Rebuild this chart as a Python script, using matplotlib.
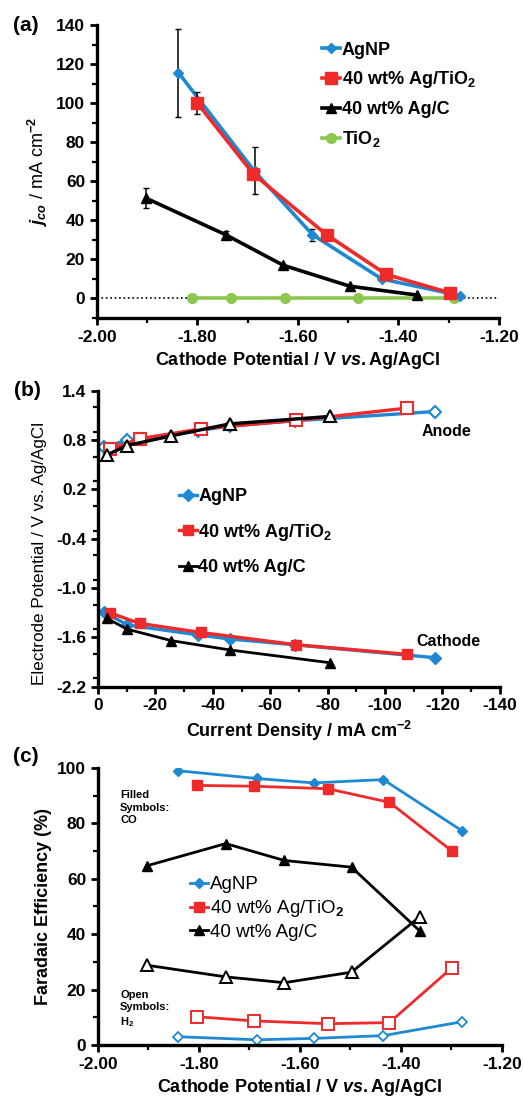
import matplotlib.pyplot as plt
from matplotlib.ticker import MultipleLocator, FormatStrFormatter
from matplotlib.lines import Line2D

plt.rcParams['font.family'] = 'Liberation Sans'
plt.rcParams['font.weight'] = 'bold'
plt.rcParams['axes.labelweight'] = 'bold'
plt.rcParams['axes.unicode_minus'] = False
plt.rcParams['mathtext.fontset'] = 'custom'
plt.rcParams['mathtext.rm'] = 'Liberation Sans:bold'
plt.rcParams['mathtext.it'] = 'Liberation Sans:italic:bold'
plt.rcParams['mathtext.bf'] = 'Liberation Sans:bold'

BLUE = '#1f88d2'
RED = '#ee2a2a'
BLACK = '#000000'
GREEN = '#8cc850'

# ---- panel (a): partial current density for CO
a_agnp_x = [-1.838, -1.686, -1.571, -1.433, -1.278]
a_agnp_y = [115.8, 65.1, 32.7, 10.0, 1.5]
a_agnp_err_lo = [22.9, 11.6, 3.4, 0, 0]
a_agnp_err_hi = [22.5, 12.3, 2.9, 0, 0]

a_tio2ag_x = [-1.800, -1.689, -1.543, -1.424, -1.298]
a_tio2ag_y = [100.1, 63.9, 32.7, 12.3, 2.9]
a_tio2ag_err = [5.5, 0, 0, 0, 0]

a_agc_x = [-1.903, -1.744, -1.629, -1.497, -1.362]
a_agc_y = [51.5, 32.7, 17.0, 6.3, 1.7]
a_agc_err = [5.2, 1.8, 0, 0, 0]

a_tio2_x = [-1.810, -1.734, -1.626, -1.480, -1.290]
a_tio2_y = [0, 0, 0, 0, 0]

# ---- panel (b): electrode potentials vs current density
b_agnp_x = [-2.0, -10.2, -35.0, -45.9, -68.5, -117.3]
b_agnp_anode = [0.714, 0.80, 0.913, 0.974, 1.035, 1.148]
b_agnp_cathode = [-1.287, -1.449, -1.57, -1.62, -1.69, -1.847]

b_tio2ag_x = [-4.1, -14.5, -35.8, -69.1, -107.7]
b_tio2ag_anode = [0.69, 0.816, 0.937, 1.04, 1.19]
b_tio2ag_cathode = [-1.30, -1.43, -1.54, -1.69, -1.806]

b_agc_x = [-3.1, -10.1, -25.6, -45.9, -80.7]
b_agc_anode = [0.62, 0.734, 0.852, 0.998, 1.088]
b_agc_cathode = [-1.368, -1.50, -1.64, -1.753, -1.908]

b_yticks = [1.4, 0.8, 0.2, -0.4, -1.0, -1.6, -2.2]

# ---- panel (c): faradaic efficiency
c_agnp_x = [-1.841, -1.686, -1.573, -1.435, -1.279]
c_agnp_co = [99.0, 96.2, 94.6, 95.8, 77.3]
c_agnp_h2 = [3.0, 1.9, 2.4, 3.4, 8.4]

c_tio2ag_x = [-1.803, -1.691, -1.545, -1.423, -1.299]
c_tio2ag_co = [93.7, 93.4, 92.5, 87.6, 70.0]
c_tio2ag_h2 = [10.2, 8.7, 7.7, 8.1, 27.9]

c_agc_x = [-1.903, -1.747, -1.631, -1.498, -1.363]
c_agc_co = [64.7, 72.7, 66.6, 64.2, 41.2]
c_agc_h2 = [28.8, 24.6, 22.5, 26.3, 46.3]

lab_agnp = 'AgNP'
lab_tio2ag = '40 wt% Ag/TiO$_2$'
lab_agc = '40 wt% Ag/C'
lab_tio2 = 'TiO$_2$'

TICK = 12.5
LABEL = 13


def style(ax):
    for s in ['top', 'right']:
        ax.spines[s].set_visible(False)
    for s in ['left', 'bottom']:
        ax.spines[s].set_linewidth(2.4)
    ax.tick_params(which='major', direction='out', length=5, width=2, labelsize=TICK)
    ax.tick_params(which='minor', direction='out', length=3.5, width=1.6)


fig = plt.figure(figsize=(5.24, 11.04), dpi=100)

# (a)
ax = fig.add_axes([0.185, 0.712, 0.767, 0.265])
ax.axhline(0, color='k', ls=':', lw=1.2, zorder=1)
ax.errorbar(a_agnp_x, a_agnp_y, yerr=[a_agnp_err_lo, a_agnp_err_hi], color=BLUE, lw=2.6,
            marker='D', ms=5.5, ecolor='k', elinewidth=1.1, capsize=2.5, zorder=3)
ax.errorbar(a_tio2ag_x, a_tio2ag_y, yerr=a_tio2ag_err, color=RED, lw=2.6,
            marker='s', ms=8, ecolor='k', elinewidth=1.1, capsize=2.5, zorder=4)
ax.errorbar(a_agc_x, a_agc_y, yerr=a_agc_err, color=BLACK, lw=2.6,
            marker='^', ms=7, ecolor='k', elinewidth=1.1, capsize=2.5, zorder=3)
ax.plot(a_tio2_x, a_tio2_y, color=GREEN, lw=2.6, marker='o', ms=7, zorder=2)
ax.set_xlim(-2.0, -1.2)
ax.set_ylim(-10, 140)
ax.xaxis.set_major_locator(MultipleLocator(0.2))
ax.xaxis.set_minor_locator(MultipleLocator(0.1))
ax.xaxis.set_major_formatter(FormatStrFormatter('%.2f'))
ax.yaxis.set_major_locator(MultipleLocator(20))
ax.yaxis.set_minor_locator(MultipleLocator(10))
style(ax)
ax.set_xlabel('Cathode Potential / V $\\mathit{vs.}$Ag/AgCl', fontsize=LABEL, labelpad=4)
ax.set_ylabel('$j_{co}$ / mA cm$^{-2}$', fontsize=LABEL, labelpad=4, fontweight='normal')
handles = [Line2D([], [], color=BLUE, lw=2.6, marker='D', ms=5.5),
           Line2D([], [], color=RED, lw=2.6, marker='s', ms=8),
           Line2D([], [], color=BLACK, lw=2.6, marker='^', ms=7),
           Line2D([], [], color=GREEN, lw=2.6, marker='o', ms=7)]
ax.legend(handles, [lab_agnp, lab_tio2ag, lab_agc, lab_tio2], loc='upper left',
          bbox_to_anchor=(0.52, 1.0), frameon=False, fontsize=13,
          handlelength=1.0, handletextpad=0.1, labelspacing=0.6)
ax.text(-0.21, 1.0, '(a)', transform=ax.transAxes, fontsize=15, ha='left', va='center')

# (b)
ax = fig.add_axes([0.187, 0.378, 0.767, 0.268])
ax.plot(b_agnp_x, b_agnp_anode, color=BLUE, lw=2.4, marker='D', ms=6, mfc='white', mec=BLUE, mew=1.5)
ax.plot(b_tio2ag_x, b_tio2ag_anode, color=RED, lw=2.4, marker='s', ms=8, mfc='white', mec=RED, mew=1.5)
ax.plot(b_agc_x, b_agc_anode, color=BLACK, lw=2.4, marker='^', ms=8, mfc='white', mec=BLACK, mew=1.5)
ax.plot(b_agnp_x, b_agnp_cathode, color=BLUE, lw=2.4, marker='D', ms=6, label=lab_agnp)
ax.plot(b_tio2ag_x, b_tio2ag_cathode, color=RED, lw=2.4, marker='s', ms=7.5, label=lab_tio2ag)
ax.plot(b_agc_x, b_agc_cathode, color=BLACK, lw=2.0, marker='^', ms=7.5, label=lab_agc)
ax.set_xlim(0, -140)
ax.set_ylim(-2.2, 1.4)
ax.xaxis.set_major_locator(MultipleLocator(20))
ax.xaxis.set_minor_locator(MultipleLocator(10))
ax.set_yticks(b_yticks)
ax.yaxis.set_minor_locator(MultipleLocator(0.3))
ax.yaxis.set_major_formatter(FormatStrFormatter('%.1f'))
style(ax)
ax.set_xlabel('Current Density / mA cm$^{-2}$', fontsize=LABEL, labelpad=4)
ax.set_ylabel('Electrode Potential / V vs. Ag/AgCl', fontsize=12.3, fontweight='normal')
ax.yaxis.set_label_coords(-0.128, 0.45)
ax.text(-121.5, 0.90, 'Anode', fontsize=11.5, ha='center', va='center')
ax.text(-122, -1.65, 'Cathode', fontsize=11.5, ha='center', va='center')
ax.legend(loc='upper left', bbox_to_anchor=(0.16, 0.725), frameon=False, fontsize=13,
          handlelength=1.0, handletextpad=0.1, labelspacing=0.9)
ax.text(-0.21, 1.0, '(b)', transform=ax.transAxes, fontsize=15, ha='left', va='center')

# (c)
ax = fig.add_axes([0.187, 0.0534, 0.771, 0.251])
ax.plot(c_agnp_x, c_agnp_co, color=BLUE, lw=2.0, marker='D', ms=5, label=lab_agnp)
ax.plot(c_tio2ag_x, c_tio2ag_co, color=RED, lw=2.0, marker='s', ms=7.5, label=lab_tio2ag)
ax.plot(c_agc_x, c_agc_co, color=BLACK, lw=2.0, marker='^', ms=7.5, label=lab_agc)
ax.plot(c_agnp_x, c_agnp_h2, color=BLUE, lw=2.0, marker='D', ms=5.5, mfc='white', mec=BLUE, mew=1.3)
ax.plot(c_tio2ag_x, c_tio2ag_h2, color=RED, lw=2.0, marker='s', ms=8, mfc='white', mec=RED, mew=1.4)
ax.plot(c_agc_x, c_agc_h2, color=BLACK, lw=2.0, marker='^', ms=8, mfc='white', mec=BLACK, mew=1.4)
ax.set_xlim(-2.0, -1.2)
ax.set_ylim(0, 100)
ax.xaxis.set_major_locator(MultipleLocator(0.2))
ax.xaxis.set_minor_locator(MultipleLocator(0.1))
ax.xaxis.set_major_formatter(FormatStrFormatter('%.2f'))
ax.yaxis.set_major_locator(MultipleLocator(20))
ax.yaxis.set_minor_locator(MultipleLocator(10))
style(ax)
ax.set_xlabel('Cathode Potential / V $\\mathit{vs.}$Ag/AgCl', fontsize=LABEL, labelpad=4)
ax.set_ylabel('Faradaic Efficiency (%)', fontsize=LABEL, labelpad=4)
ax.text(0.055, 0.92, 'Filled\nSymbols:\nCO', transform=ax.transAxes, fontsize=8,
        ha='left', va='top', linespacing=1.3)
ax.text(0.055, 0.20, 'Open\nSymbols:\nH$_2$', transform=ax.transAxes, fontsize=8,
        ha='left', va='top', linespacing=1.3)
ax.legend(loc='upper left', bbox_to_anchor=(0.185, 0.67), frameon=False,
          handlelength=1.0, handletextpad=0.1, labelspacing=0.25, prop={'weight': 'normal', 'size': 13.5})
ax.text(-0.21, 1.04, '(c)', transform=ax.transAxes, fontsize=15, ha='left', va='center')

fig.savefig('out.png', dpi=100)
